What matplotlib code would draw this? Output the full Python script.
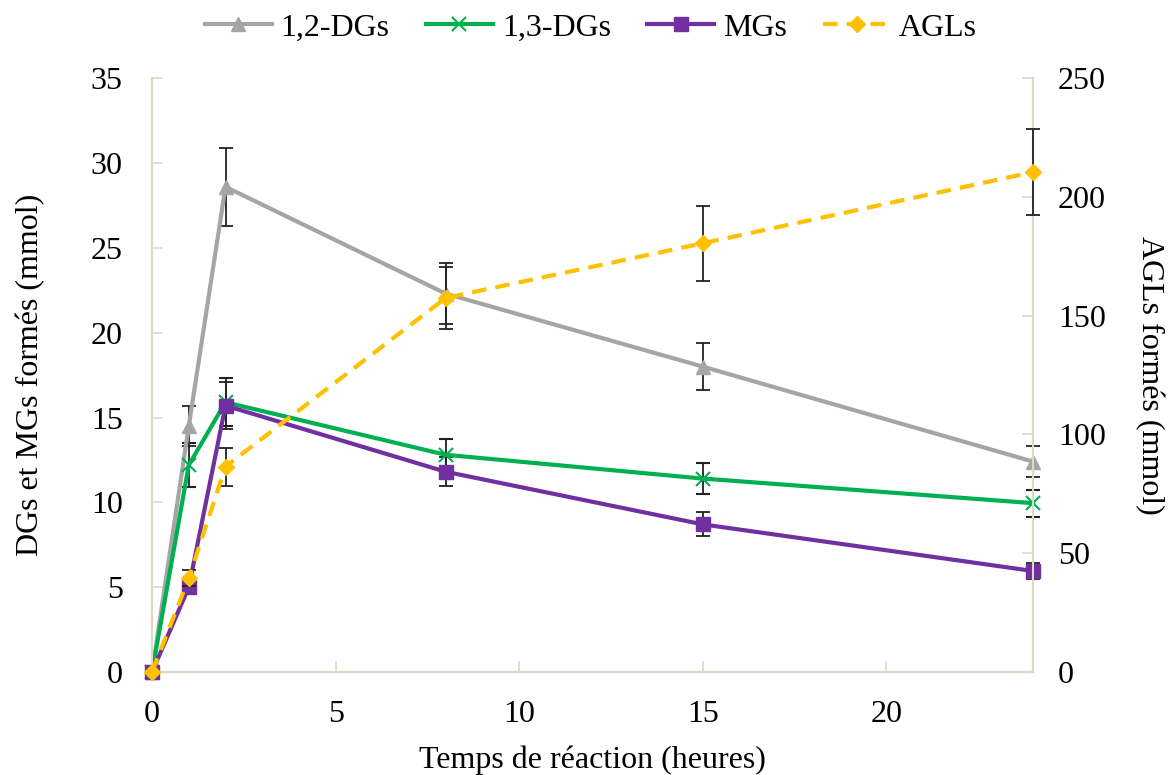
import matplotlib
matplotlib.use("Agg")
import matplotlib.pyplot as plt
from matplotlib.lines import Line2D

plt.rcParams['font.family'] = ['Liberation Serif', 'DejaVu Serif']

hours = [0, 1, 2, 8, 15, 24]
dg12 = [0, 14.5, 28.6, 22.3, 18.0, 12.4]
dg12_err = [0, 1.2, 2.3, 1.8, 1.4, 0.9]
dg13 = [0, 12.2, 15.9, 12.8, 11.4, 9.95]
dg13_err = [0, 1.3, 1.4, 0.95, 0.9, 0.8]
mgs = [0, 5.0, 15.7, 11.8, 8.7, 5.95]
mgs_err = [0, 0.4, 1.4, 0.85, 0.7, 0.5]
agls = [0, 39.5, 86.5, 157.5, 180.5, 210.5]
agls_err = [0, 3.5, 8.0, 13.0, 15.8, 18.0]

c_dg12 = '#A5A5A5'
c_dg13 = '#00B050'
c_mgs = '#7030A0'
c_agls = '#FFC000'
spine_c = '#DDD9C8'
fs = 23
dash = (0, (3.5, 2.2))

fig = plt.figure(figsize=(11.7, 7.75), dpi=100)
ax = fig.add_axes([0.130, 0.133, 0.753, 0.766])
ax2 = ax.twinx()

ekw = dict(ecolor='#222222', elinewidth=1.3, capsize=5, capthick=1.3)
for lines in [
    ax.errorbar(hours, dg12, yerr=dg12_err, color=c_dg12, lw=3, marker='^', ms=10, **ekw, zorder=3),
    ax.errorbar(hours, dg13, yerr=dg13_err, color=c_dg13, lw=3, marker='x', ms=10, mew=1.5, **ekw, zorder=3),
    ax.errorbar(hours, mgs, yerr=mgs_err, color=c_mgs, lw=3, marker='s', ms=10, **ekw, zorder=3),
    ax2.errorbar(hours, agls, yerr=agls_err, color=c_agls, lw=3, ls=dash, marker='D', ms=8, **ekw, zorder=3),
]:
    for art in lines.get_children():
        art.set_clip_on(False)

ax.set_xlim(0, 24)
ax.set_ylim(0, 35)
ax2.set_ylim(0, 250)
ax.set_xticks([0, 5, 10, 15, 20])
ax.set_yticks(range(0, 36, 5))
ax2.set_yticks(range(0, 251, 50))

for a in (ax, ax2):
    for s in a.spines.values():
        s.set_color(spine_c)
        s.set_linewidth(1.5)
    a.spines['top'].set_visible(False)
    a.tick_params(direction='in', length=8, width=1.2, color=spine_c, labelsize=fs, pad=18)
ax.tick_params(axis='x', pad=20)
ax.tick_params(axis='y', pad=21)

ax.set_xlabel('Temps de réaction (heures)', fontsize=fs, labelpad=12)
ax.set_ylabel('DGs et MGs formés (mmol)', fontsize=fs, labelpad=33)
ax2.set_ylabel('AGLs formés (mmol)', fontsize=fs, rotation=270, labelpad=42)

handles = [
    Line2D([], [], color=c_dg12, lw=3, marker='^', ms=10),
    Line2D([], [], color=c_dg13, lw=3, marker='x', ms=10, mew=1.5),
    Line2D([], [], color=c_mgs, lw=3, marker='s', ms=10),
    Line2D([], [], color=c_agls, lw=3, ls=dash, marker='D', ms=8),
]
labels = ['1,2-DGs', '1,3-DGs', 'MGs', 'AGLs']
fig.legend(handles, labels, loc='upper center', bbox_to_anchor=(0.505, 1.02), ncol=4,
           frameon=False, fontsize=fs, handlelength=2.1, columnspacing=1.13, handletextpad=0.28)

fig.savefig('out.png', dpi=100)
